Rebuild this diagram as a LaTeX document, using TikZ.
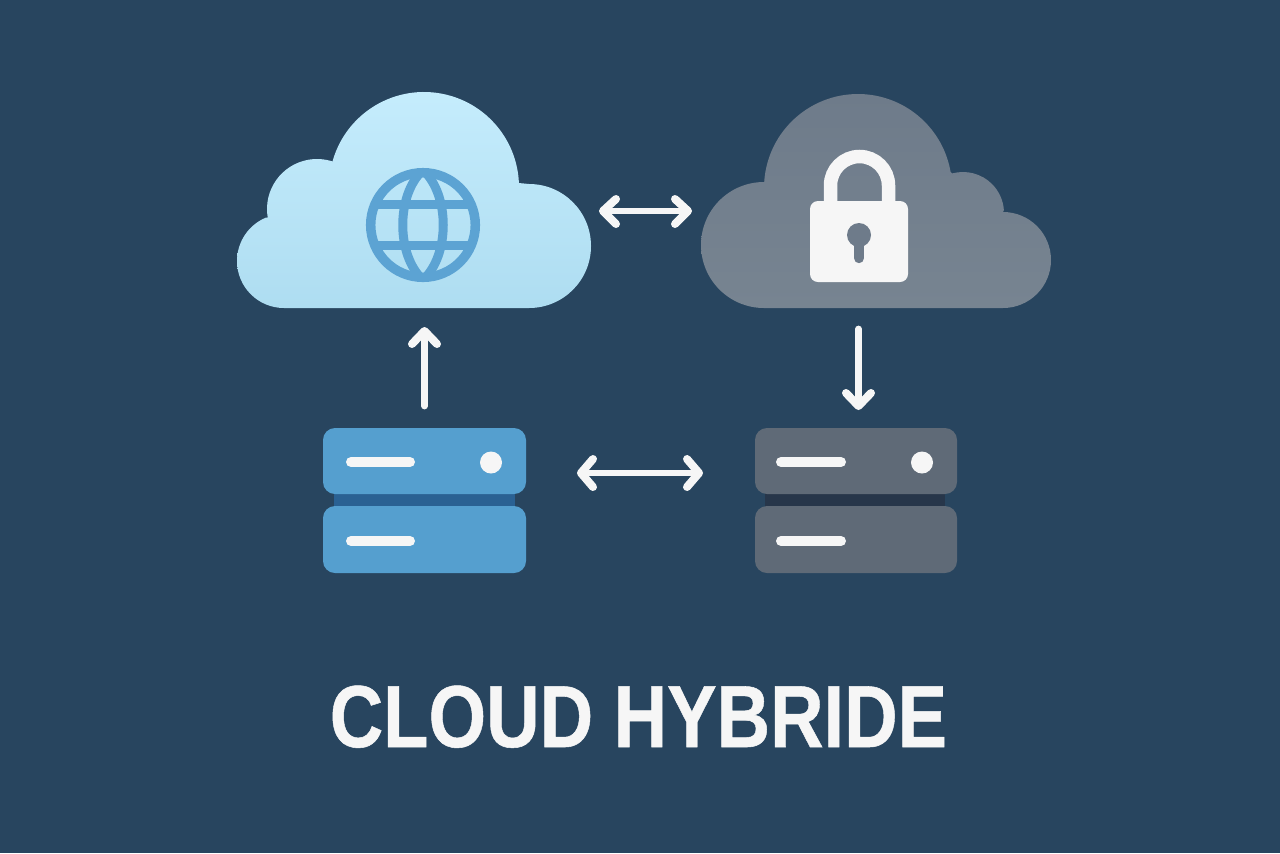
\documentclass[tikz,border=0pt]{standalone}
\usepackage{fontspec}
\setmainfont{Liberation Sans}
\newfontfamily\titlefont[FakeBold=0.6]{Liberation Sans Bold}
\definecolor{bg}{HTML}{28455F}
\definecolor{skyTop}{HTML}{C6EDFD}
\definecolor{skyBot}{HTML}{AEDDF1}
\definecolor{slateTop}{HTML}{6E7B8A}
\definecolor{slateBot}{HTML}{778491}
\definecolor{globeBlue}{HTML}{5CA3D3}
\definecolor{srvBlue}{HTML}{559FCF}
\definecolor{srvBlueBand}{HTML}{2A6193}
\definecolor{srvGrey}{HTML}{5F6A77}
\definecolor{srvGreyBand}{HTML}{27364A}
\definecolor{offwhite}{HTML}{F6F6F6}
\tikzset{
  arrowline/.style={draw=offwhite,line width=3.4pt,line cap=round,line join=round},
  arrowhead/.style={draw=offwhite,line width=4pt,line cap=round,line join=round},
  srvbar/.style={draw=offwhite,line width=5pt,line cap=round},
  srvbox/.style={rounded corners=6pt}
}
\begin{document}
\begin{tikzpicture}[x=1pt,y=1pt,xscale=0.5,yscale=-0.5]
\fill[bg] (0,0) rectangle (1280,853);
\useasboundingbox (0,0) rectangle (1280,853);

% sky cloud (the picture's y axis is flipped, so the shading colours swap)
\shade[top color=skyBot,bottom color=skyTop,shading angle=180]
  ([shift={(284,261)}]90:47) arc[start angle=90,end angle=247,radius=47pt]
  -- ([shift={(317,209)}]170:50) arc[start angle=170,end angle=288,radius=50pt]
  -- ([shift={(424,187)}]196.5:95) arc[start angle=196.5,end angle=357.6,radius=95pt]
  -- ([shift={(529,246)}]270:62) arc[start angle=270,end angle=450,radius=62pt]
  -- cycle;

% slate cloud
\shade[top color=slateBot,bottom color=slateTop,shading angle=180]
  ([shift={(764,245)}]90:63) arc[start angle=90,end angle=270,radius=63pt]
  -- ([shift={(858,188)}]183.6:94) arc[start angle=183.6,end angle=350.3,radius=94pt]
  -- ([shift={(963,213)}]255:41) arc[start angle=255,end angle=356,radius=41pt]
  -- ([shift={(1003,260)}]270:48) arc[start angle=270,end angle=450,radius=48pt]
  -- cycle;

% globe
\begin{scope}
  \clip (423,225) circle[radius=55pt];
  \draw[globeBlue,line width=4.5pt] (423,170) .. controls (396,195) and (396,255) .. (423,280);
  \draw[globeBlue,line width=4.5pt] (423,170) .. controls (450,195) and (450,255) .. (423,280);
  \draw[globeBlue,line width=4.5pt] (360,204) -- (486,204) (360,245.5) -- (486,245.5);
\end{scope}
\draw[globeBlue,line width=4.75pt] (423,225) circle[radius=52.3pt];

% lock
\draw[offwhite,line width=6.75pt] (830.5,205) -- (830.5,185.5)
  arc[start angle=180,end angle=360,radius=29pt] -- (888.5,205);
\fill[offwhite,rounded corners=4pt] (810,201) rectangle (908,282);
\fill[slateTop] (859,235) circle[radius=12pt];
\draw[slateTop,line width=5.2pt,line cap=round] (859,238) -- (859,258);

% servers
\fill[srvBlueBand] (334,490) rectangle (515,510);
\fill[srvBlue,srvbox] (323,428) rectangle (526,494);
\fill[srvBlue,srvbox] (323,506) rectangle (526,573);
\draw[srvbar] (351,462) -- (410,462);
\draw[srvbar] (351,541) -- (410,541);
\fill[offwhite] (491,462.5) circle[radius=11pt];

\fill[srvGreyBand] (765,490) rectangle (945,510);
\fill[srvGrey,srvbox] (755,428) rectangle (957,494);
\fill[srvGrey,srvbox] (755,506) rectangle (957,573);
\draw[srvbar] (781,462) -- (841,462);
\draw[srvbar] (781,541) -- (841,541);
\fill[offwhite] (922,462.5) circle[radius=11pt];

% arrows
\coordinate (tl) at (603,211); \coordinate (tr) at (688,211);
\draw[arrowline] (tl) -- (tr);
\draw[arrowhead] (616,199) -- (tl) -- (616,224);
\draw[arrowhead] (675,199) -- (tr) -- (675,224);
\coordinate (bl) at (581,473); \coordinate (br) at (699,473);
\draw[arrowline] (bl) -- (br);
\draw[arrowhead] (593,459) -- (bl) -- (593,487);
\draw[arrowhead] (687,459) -- (br) -- (687,487);
\coordinate (us) at (424.5,406); \coordinate (ue) at (424.5,331);
\draw[arrowline] (us) -- (ue);
\draw[arrowhead] (412,344) -- (ue) -- (437,344);
\coordinate (ds) at (858.5,329); \coordinate (de) at (858.5,406);
\draw[arrowline] (ds) -- (de);
\draw[arrowhead] (846,393) -- (de) -- (871,393);

% title
\node[text=offwhite,font=\fontsize{44}{52}\titlefont,inner sep=0pt,anchor=base] (title) at (638.5,747) {\scalebox{0.842}[1]{CLOUD HYBRIDE}};
\end{tikzpicture}
\end{document}
